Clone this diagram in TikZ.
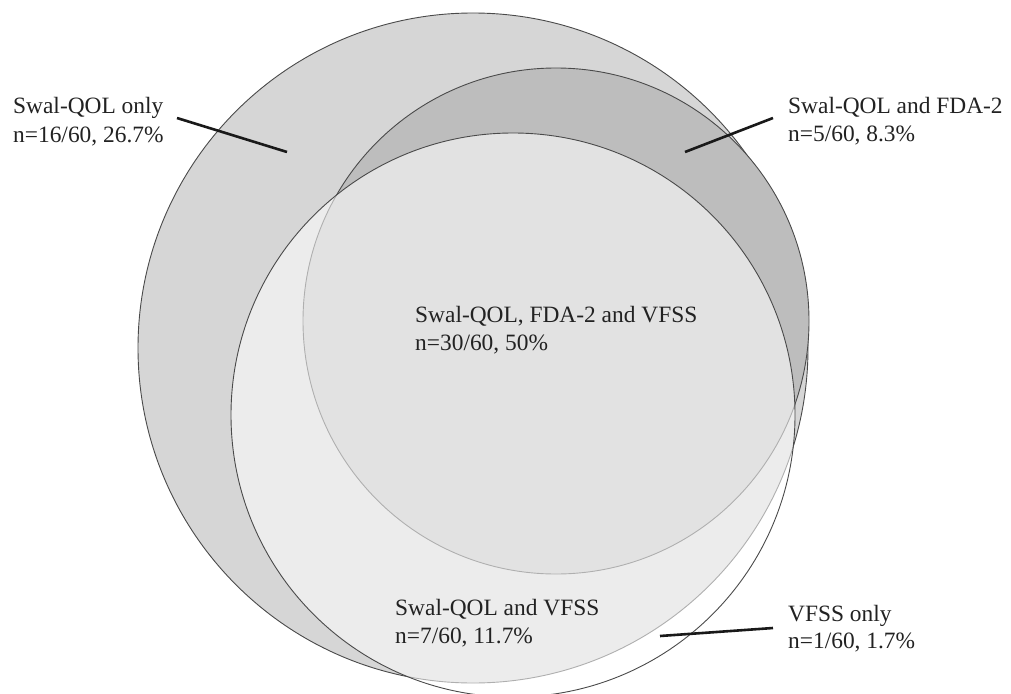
\documentclass[tikz,border=0pt]{standalone}
\usepackage{fontspec}
\setmainfont{Liberation Serif}
\definecolor{ringgray}{HTML}{D6D6D6}
\definecolor{bandgray}{HTML}{BDBDBD}
\definecolor{edgegray}{HTML}{4A4A4A}
\definecolor{textgray}{HTML}{222222}
\begin{document}
\begin{tikzpicture}[x=1pt,y=-1pt,
  venn/.style={circle, inner sep=0pt, draw=edgegray, line width=0.9pt},
  lbl/.style={anchor=base west, inner sep=0pt, text=textgray,
              font=\fontsize{23.4}{28}\selectfont},
  pointer/.style={line width=2.6pt, draw=black!90}]
\fill[white] (0,0) rectangle (1011,693);
\useasboundingbox (0,0) rectangle (1011,693);

% circles
\node[venn, fill=ringgray, minimum size=670pt] (swal) at (473,348) {};
\node[venn, fill=bandgray, minimum size=506pt] (fda) at (556,321) {};
\node[venn, fill=white, fill opacity=0.56, minimum size=564pt] (vfss) at (513,415) {};

% labels
\node[lbl] (sq1) at (13,113) {Swal-QOL only};
\node[lbl] (sq2) at (13,142) {n=16/60, 26.7\%};
\node[lbl] (sf1) at (788,113) {Swal-QOL and FDA-2};
\node[lbl] (sf2) at (788,141) {n=5/60, 8.3\%};
\node[lbl] (all1) at (415,322) {Swal-QOL, FDA-2 and VFSS};
\node[lbl] (all2) at (415,350) {n=30/60, 50\%};
\node[lbl] (sv1) at (395,615) {Swal-QOL and VFSS};
\node[lbl] (sv2) at (395,643) {n=7/60, 11.7\%};
\node[lbl] (vo1) at (788,621) {VFSS only};
\node[lbl] (vo2) at (788,648) {n=1/60, 1.7\%};

% pointers
\coordinate (sqa) at (177,118);
\coordinate (sqb) at (287,152);
\coordinate (sfa) at (773,118);
\coordinate (sfb) at (685,152);
\coordinate (voa) at (773,628);
\coordinate (vob) at (660,636);
\draw[pointer] (sqa) -- (sqb);
\draw[pointer] (sfa) -- (sfb);
\draw[pointer] (voa) -- (vob);
\end{tikzpicture}
\end{document}
